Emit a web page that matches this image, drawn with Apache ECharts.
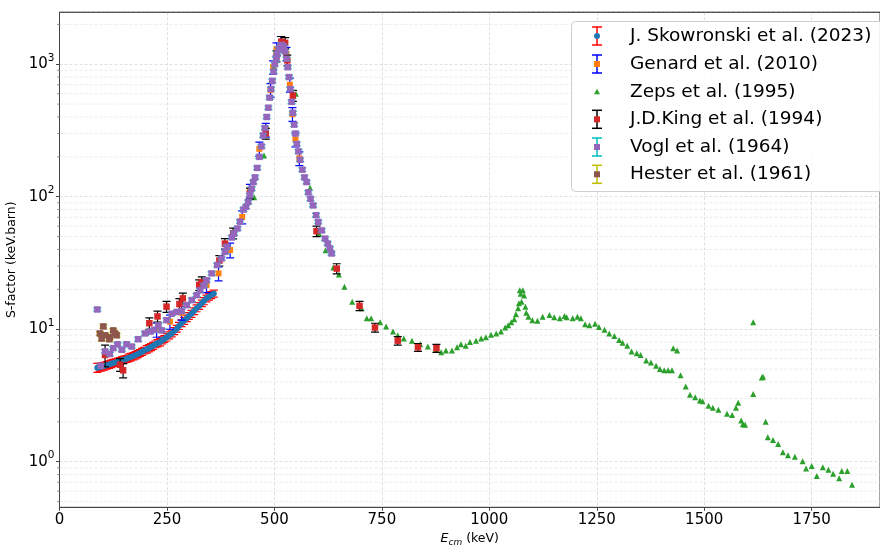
<!DOCTYPE html>
<html><head><meta charset="utf-8">
<script src="https://cdn.jsdelivr.net/npm/echarts@6/dist/echarts.min.js"></script>
<style>html,body{margin:0;padding:0;background:#fff}#c{width:880px;height:548px}</style>
</head><body><div id="c"></div>
<script>
// ---------------- DATA ----------------
const skowE = [88,93,98,104,110,115,120,125,131,136,141,146,151,156,161,166,172,177,182,187,192,197,203,208,213,218,223,228,234,239,244,249,255,261,267,273,278,284,290,296,301,307,313,319,325,331,336,342,348,353,359];
const skowS = [5.12,5.17,5.2,5.27,5.35,5.42,5.49,5.57,5.64,5.71,5.77,5.86,5.92,5.98,6.09,6.17,6.27,6.38,6.5,6.63,6.76,6.9,7.06,7.2,7.35,7.5,7.7,7.85,8.0,8.25,8.45,8.7,9.0,9.3,9.7,10.1,10.6,11.1,11.6,12.1,12.6,13.1,13.7,14.4,15.0,15.7,16.3,17.1,17.6,18.1,18.6];
const skowErr = [0.4,0.35,0.35,0.35,0.35,0.35,0.35,0.35,0.35,0.35,0.35,0.35,0.35,0.35,0.4,0.4,0.4,0.4,0.4,0.4,0.4,0.4,0.45,0.45,0.45,0.45,0.45,0.5,0.5,0.5,0.5,0.55,0.55,0.55,0.6,0.6,0.65,0.65,0.7,0.7,0.75,0.8,0.8,0.85,0.9,0.9,1.0,1.0,1.0,1.1,1.1];

const genE = [226,257,284,342,370,397,425,443,465,480,491,497,505,515,528,536,542,549,558];
const genS = [9.9,11.4,13.3,21.5,26.4,39.6,70.3,111,230,320,640,950,1300,1450,1200,700,420,270,195];
const genErr = [1.2,1.4,1.6,2.6,3.2,5,8,13,28,38,75,110,150,170,140,85,50,32,23];

const zepsE = [453,476,500,520,550,583,604,619,637,650,663,681,703,715,725,746,760,776,787,801,820,839,857,876,888,899,913,925,934,945,955,969,981,992,1004,1016,1027,1037,1044,1051,1058,1062,1067,1069,1071,1073,1075,1078,1081,1084,1086,1091,1100,1112,1124,1140,1151,1164,1175,1180,1194,1205,1213,1223,1233,1246,1255,1268,1279,1291,1302,1310,1321,1331,1343,1352,1365,1376,1388,1397,1407,1416,1425,1428,1437,1445,1457,1467,1479,1490,1496,1510,1520,1533,1553,1565,1574,1579,1586,1590,1595,1614,1614,1634,1637,1643,1648,1660,1672,1683,1695,1711,1729,1737,1750,1762,1776,1789,1800,1814,1820,1833,1844];
const zepsS = [99,205,950,1300,600,117,52.7,39.4,29.3,25.9,20.9,16.1,14.4,12.1,12.1,11.3,10.5,9.6,9.0,8.5,8.2,7.7,7.4,7.1,6.7,6.9,6.9,7.3,7.7,7.5,8.0,8.2,8.5,8.7,9.1,9.3,9.6,10.3,10.7,11.3,11.9,13,14.4,15.7,19.7,18.5,16.1,19.7,18,14.8,13.3,12.4,11.7,11.6,12.4,12.8,12.3,12.1,12.6,12.3,12.1,12.4,12.1,10.9,10.7,11.0,10.4,9.9,9.3,8.9,8.3,7.9,7.5,6.8,6.6,6.4,5.8,5.6,5.3,5.0,4.9,4.9,4.9,7.2,6.9,4.5,3.7,3.2,3.07,2.9,2.86,2.64,2.55,2.47,2.3,2.25,2.55,2.79,2.05,1.92,1.9,3.24,11.3,4.33,4.38,2.0,1.53,1.46,1.36,1.18,1.12,1.09,1.01,0.89,0.93,0.78,0.91,0.87,0.81,0.75,0.85,0.85,0.67];

const kingE = [106,141,148,209,228,249,279,287,325,331,372,385,404,443,480,505,516,525,530,543,598,645,698,734,787,834,877];
const kingS = [6.4,5.4,4.9,11.1,12.5,14.8,15.5,17.1,21.6,22.7,33,44.3,53,106,300,1150,1480,1450,1070,580,55,28.7,15,10.3,8.2,7.3,7.2];
const kingErr = [1.2,0.6,0.6,1.1,1.2,1.4,1.5,1.6,2,2.1,3,4,5,10,28,110,140,140,100,55,5,2.5,1.2,0.8,0.6,0.5,0.5];

const voglE = [88,96,106,117,125,135,145,156,168,183,199,211,221,230,238,249,261,273,284,296,308,319,327,336,342,354,367,377,385,389,401,406,414,420,428,434,439,443,447,451,455,460,465,470,474,478,482,486,489,492,495,498,501,504,507,510,513,516,519,522,525,528,531,534,537,540,543,546,549,552,556,560,565,570,575,579,584,590,597,602,610,618,624,629,633];
const voglS = [14.1,5.3,6.8,6.5,7.2,7.7,7.0,7.7,7.4,8.4,9.3,9.6,9.9,10.7,9.8,11.7,13.1,13.5,13.7,15.2,16.6,18.1,19.7,21.4,23.4,26.4,30.5,34.2,38.4,41.9,49.3,52.7,57.6,65,80,84,91.5,103,115,129,140,165,200,240,290,330,400,470,560,650,750,880,1000,1100,1200,1300,1350,1400,1380,1350,1250,1100,950,800,650,520,430,350,300,250,220,190,160,140,129,108,96.5,86,72.6,64.5,55.7,48.3,44.3,40.7,37.3];
const voglErr = [0.4,0.2,0.2,0.2,0.2,0.2,0.2,0.2,0.2,0.3,0.3,0.3,0.3,0.3,0.3,0.4,0.4,0.4,0.4,0.5,0.5,0.5,0.6,0.6,0.7,0.8,0.9,1.0,1.2,1.3,1.5,1.6,1.7,2,2.4,2.5,2.7,3,3.5,4,4,5,6,7,9,10,12,14,17,20,23,26,30,33,36,39,41,42,41,41,38,33,29,24,20,16,13,11,9,8,7,6,5,4,4,3.2,2.9,2.6,2.2,1.9,1.7,1.4,1.3,1.2,1.1];

const hesE = [94,98,102,106,116,117,125,129,133];
const hesS = [9.3,8.5,10.5,9.0,8.4,8.7,9.8,9.3,9.0];
const hesErr = [0.3,0.3,0.3,0.3,0.3,0.3,0.3,0.3,0.3];

const legendNames = ['J. Skowronski et al. (2023)','Genard et al. (2010)','Zeps et al. (1995)','J.D.King et al. (1994)','Vogl et al. (1964)','Hester et al. (1961)'];
const xTickInterval = 250;
const decades = [-1,0,1,2,3];

// ---------------- CHART ----------------
const FONT = 'DejaVu Sans';
const X_MIN = 0, X_MAX = 1909, Y_MIN = 0.453, Y_MAX = 2466;

const minorVals = [];
decades.forEach(d => { for (let m = 2; m <= 9; m++) { const v = m * Math.pow(10, d); if (v > Y_MIN && v < Y_MAX) minorVals.push(v); } });

function pts(E, S) { return E.map((e, i) => [e, S[i]]); }
function errs(E, S, Er) { return E.map((e, i) => [e, S[i] - Er[i], S[i] + Er[i]]); }

function errSeries(E, S, Er, color, cap, z) {
  return {
    type: 'custom', silent: true, z: z, clip: true,
    data: errs(E, S, Er), encode: { x: 0, y: [1, 2] },
    renderItem: function (params, api) {
      const x = api.value(0);
      const p1 = api.coord([x, api.value(1)]);
      const p2 = api.coord([x, api.value(2)]);
      const st = { stroke: color, lineWidth: 1.2 };
      return { type: 'group', children: [
        { type: 'line', shape: { x1: p1[0], y1: p1[1], x2: p2[0], y2: p2[1] }, style: st },
        { type: 'line', shape: { x1: p1[0] - cap, y1: p1[1], x2: p1[0] + cap, y2: p1[1] }, style: st },
        { type: 'line', shape: { x1: p2[0] - cap, y1: p2[1], x2: p2[0] + cap, y2: p2[1] }, style: st }
      ]};
    }
  };
}
function ptSeries(E, S, color, symbol, size, z) {
  return { type: 'scatter', data: pts(E, S), symbol: symbol, symbolSize: size, z: z, silent: true,
    itemStyle: { color: color, opacity: 1 } };
}

const minorSeries = {
  type: 'custom', silent: true, z: 1, clip: false,
  data: minorVals.map(v => [X_MIN, v]), encode: { x: 0, y: 1 },
  renderItem: function (params, api) {
    const cs = params.coordSys;
    const p = api.coord([X_MIN, api.value(1)]);
    return { type: 'group', children: [
      { type: 'line', shape: { x1: cs.x, y1: p[1], x2: cs.x + cs.width, y2: p[1] }, style: { stroke: '#e6e6e6', lineWidth: 0.8, lineDash: [3, 2] } },
      { type: 'line', shape: { x1: cs.x - 2.2, y1: p[1], x2: cs.x, y2: p[1] }, style: { stroke: '#444', lineWidth: 0.7 } }
    ]};
  }
};

const series = [
  minorSeries,
  errSeries(skowE, skowS, skowErr, '#ff0000', 4, 10), ptSeries(skowE, skowS, '#1f77b4', 'circle', 6, 11),
  errSeries(genE, genS, genErr, '#0000ff', 4, 12), ptSeries(genE, genS, '#ff7f0e', 'rect', 6, 13),
  ptSeries(zepsE, zepsS, '#2ca02c', 'triangle', 6, 14),
  errSeries(kingE, kingS, kingErr, '#000000', 4, 15), ptSeries(kingE, kingS, '#d62728', 'rect', 6.5, 16),
  errSeries(voglE, voglS, voglErr, '#00bfbf', 4, 17), ptSeries(voglE, voglS, '#9467bd', 'rect', 6.5, 18),
  errSeries(hesE, hesS, hesErr, '#bfbf00', 4, 19), ptSeries(hesE, hesS, '#8c564b', 'rect', 6.5, 20)
];

// legend drawn as graphic
const legX = 597, legTextX = 630;
const rows = [36, 64, 91.7, 119.3, 147, 174.3];
const legSpec = [
  { c: '#1f77b4', e: '#ff0000', m: 'circle' },
  { c: '#ff7f0e', e: '#0000ff', m: 'rect' },
  { c: '#2ca02c', e: null, m: 'tri' },
  { c: '#d62728', e: '#000000', m: 'rect' },
  { c: '#9467bd', e: '#00bfbf', m: 'rect' },
  { c: '#8c564b', e: '#bfbf00', m: 'rect' }
];
const graphics = [
  { type: 'line', shape: { x1: 59.5, y1: 12.3, x2: 880, y2: 12.3 }, style: { stroke: '#444', lineWidth: 1 }, z: 99 },
  { type: 'rect', shape: { x: 571.5, y: 21.5, width: 330, height: 170, r: 4 },
    style: { fill: 'rgba(255,255,255,0.85)', stroke: '#d0d0d0', lineWidth: 1 }, z: 100 }];
legSpec.forEach((s, i) => {
  const y = rows[i];
  if (s.e) {
    const st = { stroke: s.e, lineWidth: 1.5 };
    graphics.push({ type: 'line', shape: { x1: legX, y1: y - 9, x2: legX, y2: y + 9 }, style: st, z: 101 });
    graphics.push({ type: 'line', shape: { x1: legX - 5, y1: y - 9, x2: legX + 5, y2: y - 9 }, style: st, z: 101 });
    graphics.push({ type: 'line', shape: { x1: legX - 5, y1: y + 9, x2: legX + 5, y2: y + 9 }, style: st, z: 101 });
  }
  if (s.m === 'circle') graphics.push({ type: 'circle', shape: { cx: legX, cy: y, r: 3 }, style: { fill: s.c }, z: 102 });
  else if (s.m === 'rect') graphics.push({ type: 'rect', shape: { x: legX - 3, y: y - 3, width: 6, height: 6 }, style: { fill: s.c }, z: 102 });
  else graphics.push({ type: 'polygon', shape: { points: [[legX, y - 3], [legX + 3, y + 2.5], [legX - 3, y + 2.5]] }, style: { fill: s.c }, z: 102 });
  graphics.push({ type: 'text', x: legTextX, y: y, style: { text: legendNames[i], font: '18.5px "DejaVu Sans"', fill: '#000', textVerticalAlign: 'middle', verticalAlign: 'middle' }, z: 102 });
});

const chart = echarts.init(document.getElementById('c'), null, { renderer: 'canvas' });
chart.setOption({
  animation: false,
  backgroundColor: '#fff',
  textStyle: { fontFamily: FONT },
  grid: { left: 59.5, right: 0, top: 12.3, bottom: 40.7, containLabel: false, outerBoundsMode: 'none',
    show: true, borderColor: '#444', borderWidth: 1, backgroundColor: 'transparent' },
  xAxis: {
    type: 'value', min: X_MIN, max: X_MAX, interval: xTickInterval,
    name: '{i|E}{s|cm} (keV)', nameLocation: 'middle', nameGap: 23,
    nameTextStyle: { fontFamily: FONT, fontSize: 12.5, color: '#000',
      rich: { i: { fontFamily: FONT, fontStyle: 'italic', fontSize: 12.5, color: '#000' },
              s: { fontFamily: FONT, fontStyle: 'italic', fontSize: 9, color: '#000', padding: [7, 0, 0, 0] } } },
    axisLine: { show: true, onZero: false, lineStyle: { color: '#444', width: 1 } },
    axisTick: { show: true, length: 3.5, lineStyle: { color: '#444' } },
    axisLabel: { fontFamily: FONT, fontSize: 15, color: '#000', margin: 5, showMaxLabel: false,
      formatter: function (v) { return String(v); } },
    splitLine: { show: true, lineStyle: { color: '#d8d8d8', width: 0.8, type: [3, 2] } }
  },
  yAxis: {
    type: 'log', logBase: 10, min: Y_MIN, max: Y_MAX,
    name: 'S-factor (keV.barn)', nameLocation: 'middle', nameGap: 34.5,
    nameTextStyle: { fontFamily: FONT, fontSize: 12.5, color: '#000' },
    axisLine: { show: true, lineStyle: { color: '#444', width: 1 } },
    axisTick: { show: true, length: 3.5, lineStyle: { color: '#444' } },
    axisLabel: { showMinLabel: false, showMaxLabel: false, margin: 5,
      formatter: function (v) { const n = Math.round(Math.log10(v)); return '{b|10}{s|' + n + '}'; },
      rich: { b: { fontFamily: FONT, fontSize: 15, lineHeight: 15, color: '#000' },
              s: { fontFamily: FONT, fontSize: 10.5, lineHeight: 10.5, color: '#000', padding: [0, 0, 12, 0] } } },
    splitLine: { show: true, lineStyle: { color: '#d8d8d8', width: 0.8, type: [3, 2] } }
  },
  graphic: graphics,
  series: series
});
</script>
</body></html>
